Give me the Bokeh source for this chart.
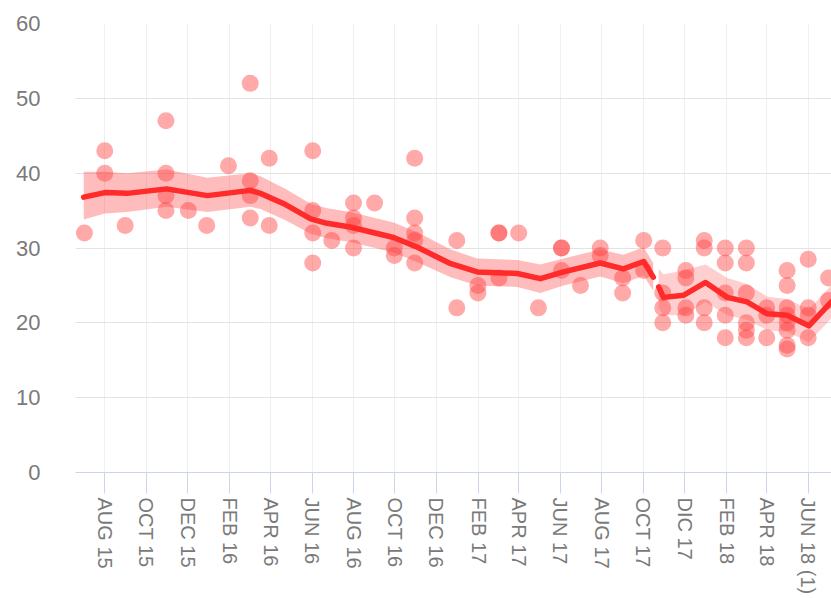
import math
import pandas as pd
from bokeh.plotting import figure
from bokeh.models import Range1d, FixedTicker
from bokeh.embed import file_html
from bokeh.resources import INLINE

ORIGIN = "2015-08-01"

tick_dates = ["2015-08-01", "2015-10-01", "2015-12-01", "2016-02-01", "2016-04-01",
              "2016-06-01", "2016-08-01", "2016-10-01", "2016-12-01", "2017-02-01",
              "2017-04-01", "2017-06-01", "2017-08-01", "2017-10-01", "2017-12-01",
              "2018-02-01", "2018-04-01", "2018-06-01"]
tick_labels = ["AUG 15", "OCT 15", "DEC 15", "FEB 16", "APR 16", "JUN 16", "AUG 16",
               "OCT 16", "DEC 16", "FEB 17", "APR 17", "JUN 17", "AUG 17", "OCT 17",
               "DIC 17", "FEB 18", "APR 18", "JUN 18 (1)"]
y_ticks = [0, 10, 20, 30, 40, 50, 60]

poll_dates = ["2015-07-02",
              "2015-08-01", "2015-08-01",
              "2015-08-31",
              "2015-10-30", "2015-10-30", "2015-10-30", "2015-10-30",
              "2015-12-02",
              "2015-12-29",
              "2016-01-30",
              "2016-03-02", "2016-03-02", "2016-03-02", "2016-03-02",
              "2016-03-30", "2016-03-30",
              "2016-06-02", "2016-06-02", "2016-06-02", "2016-06-02",
              "2016-06-30",
              "2016-08-01", "2016-08-01", "2016-08-01", "2016-08-01",
              "2016-09-01",
              "2016-09-30", "2016-09-30",
              "2016-10-30", "2016-10-30", "2016-10-30", "2016-10-30", "2016-10-30",
              "2016-12-31", "2016-12-31",
              "2017-01-31", "2017-01-31",
              "2017-03-03", "2017-03-03", "2017-03-03",
              "2017-04-01",
              "2017-04-30",
              "2017-06-03", "2017-06-03", "2017-06-03",
              "2017-07-01",
              "2017-07-30", "2017-07-30",
              "2017-09-01", "2017-09-01",
              "2017-10-02", "2017-10-02",
              "2017-10-30", "2017-10-30", "2017-10-30", "2017-10-30",
              "2017-12-03", "2017-12-03", "2017-12-03", "2017-12-03",
              "2017-12-30", "2017-12-30", "2017-12-30", "2017-12-30",
              "2018-01-30", "2018-01-30", "2018-01-30", "2018-01-30", "2018-01-30",
              "2018-03-02", "2018-03-02", "2018-03-02", "2018-03-02", "2018-03-02", "2018-03-02",
              "2018-04-01", "2018-04-01", "2018-04-01",
              "2018-05-01", "2018-05-01", "2018-05-01", "2018-05-01", "2018-05-01", "2018-05-01", "2018-05-01", "2018-05-01",
              "2018-06-01", "2018-06-01", "2018-06-01", "2018-06-01",
              "2018-07-01", "2018-07-01"]
poll_values = [32,
               43, 40,
               33,
               47, 40, 37, 35,
               35,
               33,
               41,
               52, 39, 37, 34,
               42, 33,
               43, 35, 32, 28,
               31,
               36, 34, 33, 30,
               36,
               30, 29,
               42, 34, 32, 31, 28,
               31, 22,
               25, 24,
               32, 32, 26,
               32,
               22,
               30, 30, 27,
               25,
               30, 29,
               26, 24,
               31, 27,
               30, 24, 22, 20,
               27, 26, 22, 21,
               31, 30, 22, 20,
               30, 28, 24, 21, 18,
               30, 28, 24, 20, 19, 18,
               22, 21, 18,
               27, 25, 22, 21, 20, 19, 17, 16.5,
               28.5, 22, 21, 18,
               26, 23]

trend1_dates = ["2015-07-01", "2015-08-01", "2015-09-03", "2015-10-31", "2015-12-30",
                "2016-03-02", "2016-03-17", "2016-04-23", "2016-05-30", "2016-06-23",
                "2016-07-27", "2016-09-29", "2016-11-03", "2016-12-22", "2017-01-30",
                "2017-03-30", "2017-05-03", "2017-06-06", "2017-07-30", "2017-09-02",
                "2017-10-02", "2017-10-16"]
trend1_values = [36.8, 37.4, 37.3, 37.9, 37.0, 37.7, 37.3, 35.8, 33.9, 33.3,
                 32.8, 31.4, 30.1, 27.9, 26.8, 26.6, 25.9, 26.8, 28.0, 27.2, 28.2, 26.1]
trend1_low = [33.8, 34.6, 34.8, 35.5, 34.8, 35.5, 35.2, 33.7, 31.9, 31.3,
              30.8, 29.4, 28.1, 26.1, 25.0, 24.8, 24.0, 25.0, 26.2, 25.3, 26.3, 24.3]
trend1_high = [40.2, 40.2, 40.0, 40.5, 39.4, 40.0, 39.6, 37.9, 35.9, 35.3,
               34.8, 33.4, 32.1, 29.8, 28.6, 28.4, 27.8, 28.6, 29.8, 29.1, 30.1, 28.0]

trend2_dates = ["2017-10-24", "2017-10-31", "2017-11-30", "2018-01-01", "2018-02-02",
                "2018-03-03", "2018-04-02", "2018-05-01", "2018-06-02", "2018-07-05"]
trend2_values = [24.8, 23.4, 23.7, 25.4, 23.4, 22.8, 21.2, 21.0, 19.6, 22.8]
trend2_low = [22.0, 21.0, 21.0, 22.8, 21.0, 20.4, 19.0, 18.8, 17.4, 20.6]
trend2_high = [27.2, 26.5, 27.0, 27.8, 26.0, 25.2, 23.5, 23.2, 21.8, 25.0]


def days(ds):
    o = pd.Timestamp(ORIGIN)
    return [(pd.Timestamp(d) - o).days for d in ds]


FONT = "Liberation Sans"
RED = "#ff2a2a"
DOT = "#ff4040"
LABEL = "#7a7a7a"

p = figure(width=831, height=598, output_backend="svg", toolbar_location=None,
           x_range=Range1d(-43.1, 1069.3), y_range=Range1d(0, 60),
           min_border_left=75, min_border_right=0, min_border_top=23,
           min_border_bottom=126)
p.outline_line_color = None
p.background_fill_color = "white"

tx = days(tick_dates)
p.xaxis.ticker = FixedTicker(ticks=tx)
p.xaxis.major_label_overrides = {t: l for t, l in zip(tx, tick_labels)}
p.xaxis.major_label_orientation = -math.pi / 2
p.xaxis.axis_line_color = "#ccd6eb"
p.xaxis.major_tick_line_color = "#ccd6eb"
p.xaxis.major_tick_out = 21
p.xaxis.major_tick_in = 0
p.xaxis.minor_tick_line_color = None
p.xaxis.major_label_standoff = 4
p.xaxis.major_label_text_font = FONT
p.xaxis.major_label_text_font_size = "20px"
p.xaxis.major_label_text_color = LABEL

p.yaxis.ticker = FixedTicker(ticks=y_ticks)
p.yaxis.axis_line_color = None
p.yaxis.major_tick_line_color = None
p.yaxis.minor_tick_line_color = None
p.yaxis.major_label_standoff = 29
p.yaxis.major_label_text_font = FONT
p.yaxis.major_label_text_font_size = "22px"
p.yaxis.major_label_text_color = LABEL

p.xgrid.ticker = FixedTicker(ticks=tx)
p.xgrid.grid_line_color = "#efefef"
p.ygrid.grid_line_color = "#e3e3e3"

p.varea(x=days(trend1_dates), y1=trend1_low, y2=trend1_high,
        fill_color=DOT, fill_alpha=0.35)
p.varea(x=days(trend2_dates), y1=trend2_low, y2=trend2_high,
        fill_color=DOT, fill_alpha=0.25)

p.scatter(x=days(poll_dates), y=poll_values, size=17, fill_color=DOT,
          fill_alpha=0.45, line_color=None)

p.line(x=days(trend1_dates), y=trend1_values, line_color=RED, line_width=5.5,
       line_join="round", line_cap="round")
p.line(x=days(trend2_dates), y=trend2_values, line_color=RED, line_width=5.5,
       line_join="round", line_cap="round")

open("out.html", "w").write(file_html(p, INLINE))
